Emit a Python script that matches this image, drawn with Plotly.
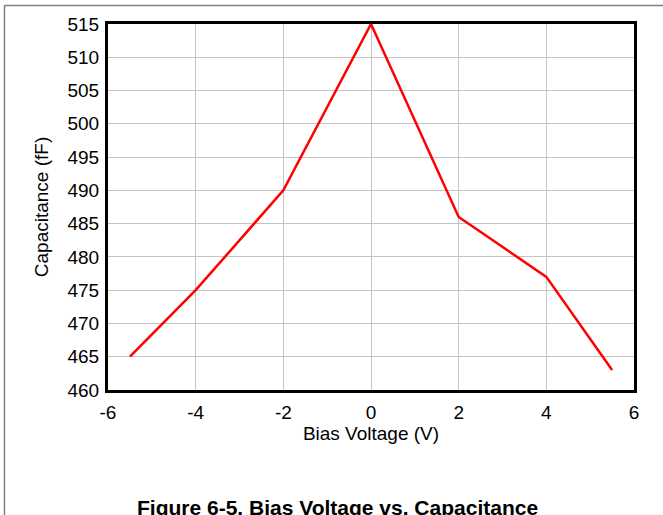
import plotly.graph_objects as go

bias_voltage = [-5.5, -4, -2, 0, 2, 4, 5.5]
capacitance = [465, 475, 490, 515, 486, 477, 463]

x_ticks = [-6, -4, -2, 0, 2, 4, 6]
x_labels = ["-6", "-4", "-2", "0", "2", "4", "6"]
y_ticks = [460, 465, 470, 475, 480, 485, 490, 495, 500, 505, 510, 515]

fonte = dict(family="Liberation Sans, Arial, sans-serif", color="black", size=19)

layout = go.Layout(
    width=663, height=515,
    margin=dict(l=108, r=29, t=24, b=125),
    paper_bgcolor="white", plot_bgcolor="white",
    font=fonte,
    showlegend=False,
    xaxis=dict(range=[-6, 6], tickvals=x_ticks, ticktext=x_labels, showgrid=True, gridcolor="#c4c4c4", gridwidth=1,
               zeroline=False, showline=True, linecolor="black", linewidth=3, mirror=True,
               ticks="outside", ticklen=3, tickcolor="rgba(0,0,0,0)",
               title=dict(text="Bias Voltage (V)", font=fonte, standoff=2)),
    yaxis=dict(range=[460, 515], tickvals=y_ticks, showgrid=True, gridcolor="#c4c4c4", gridwidth=1,
               zeroline=False, showline=True, linecolor="black", linewidth=3, mirror=True,
               ticks="outside", ticklen=2, tickcolor="rgba(0,0,0,0)",
               title=dict(text="Capacitance (fF)", font=fonte, standoff=14)),
)

fig = go.Figure(layout=layout)
fig.add_trace(go.Scatter(x=bias_voltage, y=capacitance, mode="lines",
                         line=dict(color="#ff0000", width=2.5)))

# moldura cinza da página
fig.add_shape(type="line", xref="paper", yref="paper", x0=-0.1968, x1=1.1, y0=1.0505, y1=1.0505,
              line=dict(color="#808080", width=1.5))
fig.add_shape(type="line", xref="paper", yref="paper", x0=-0.1968, x1=-0.1968, y0=1.0505, y1=-0.4,
              line=dict(color="#808080", width=1.5))

fig.add_annotation(text="<b>Figure 6-5. Bias Voltage vs. Capacitance</b>", xref="paper", yref="paper",
                   x=0.4363, y=-0.284, xanchor="center", yanchor="top", showarrow=False,
                   font=dict(family="Liberation Sans, Arial, sans-serif", size=21, color="black"))

fig.write_html("out.html", config={"displayModeBar": False},
               post_script="document.body.style.margin='0';")
